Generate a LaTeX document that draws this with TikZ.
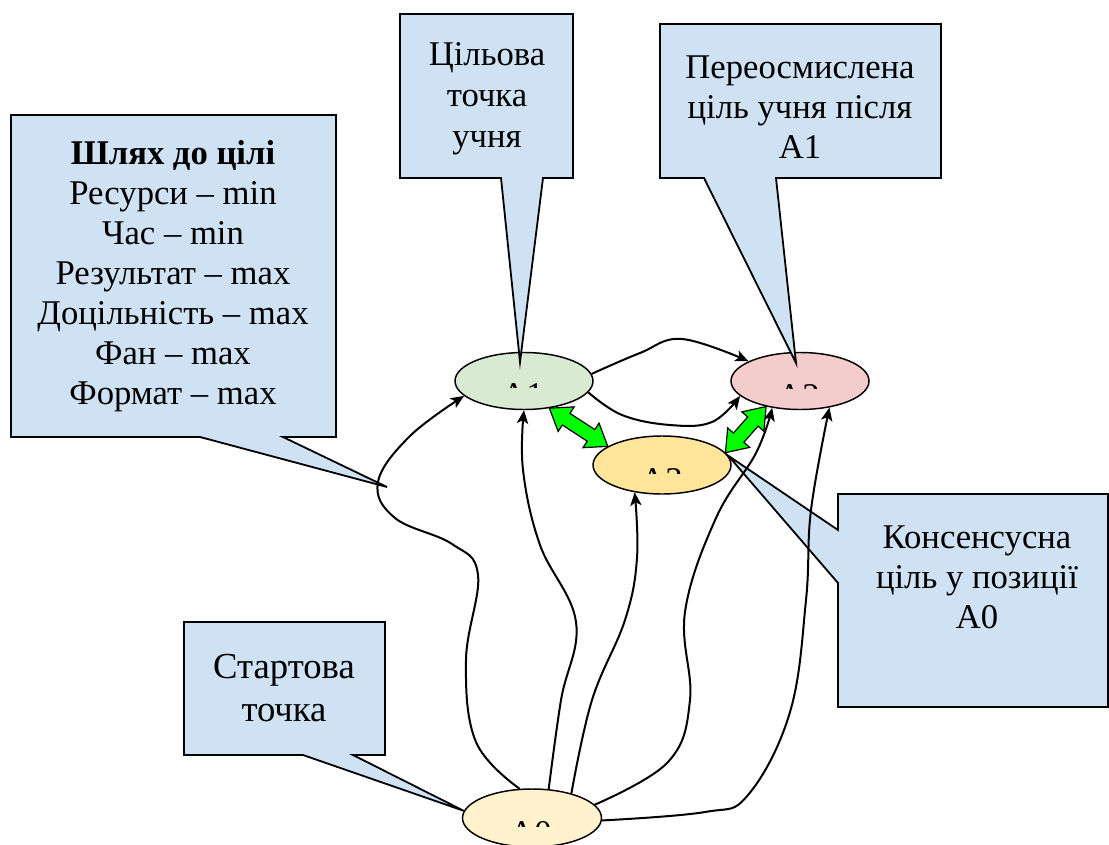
\documentclass[tikz,border=0pt]{standalone}
\usepackage{fontspec}
\IfFontExistsTF{LiberationSerif-Regular.ttf}{\setmainfont{LiberationSerif-Regular.ttf}[BoldFont=LiberationSerif-Bold.ttf]}{\setmainfont{Liberation Serif}}
\usetikzlibrary{arrows.meta,calc,shapes.geometric}
\definecolor{boxblue}{HTML}{CFE2F3}
\definecolor{gfill}{HTML}{D9EAD3}
\definecolor{rfill}{HTML}{F4CCCC}
\definecolor{yfill}{HTML}{FFE599}
\definecolor{ofill}{HTML}{FFF2CC}
\definecolor{lime}{HTML}{00FF00}
\def\fahl{15pt}
\def\fahw{11pt}
\def\fasw{5.2pt}
\newcommand\fatarr[2]{%
\draw[fatstyle] (#1) -- ($(#1)!\fahl!(#2)!\fahw!90:(#2)$) -- ($(#1)!\fahl!(#2)!\fasw!90:(#2)$)
 -- ($(#2)!\fahl!(#1)!\fasw!-90:(#1)$) -- ($(#2)!\fahl!(#1)!\fahw!-90:(#1)$) -- (#2)
 -- ($(#2)!\fahl!(#1)!\fahw!90:(#1)$) -- ($(#2)!\fahl!(#1)!\fasw!90:(#1)$)
 -- ($(#1)!\fahl!(#2)!\fasw!-90:(#2)$) -- ($(#1)!\fahl!(#2)!\fahw!-90:(#2)$) -- cycle;}
\tikzset{
  ell/.style={ellipse, draw, line width=1.1pt, inner sep=0pt, minimum width=103.5pt, minimum height=42.75pt},
  callout/.style={draw, fill=boxblue, line width=1.35pt, line join=miter},
  txt/.style={align=center, inner sep=0pt, font=\fontsize{26}{30}\selectfont},
  frag/.style={anchor=base, inner sep=0pt, font=\fontsize{26}{30}\selectfont},
  arr/.style={-{Stealth[length=10pt,width=8.5pt,inset=2.5pt]}, line width=1.5pt},
  fatstyle/.style={draw, fill=lime, line width=0.9pt, line join=miter}
}
\begin{document}
\begin{tikzpicture}[x=0.75pt,y=-0.75pt]
\useasboundingbox (0,0) rectangle (1109,845);
% ellipses
\node[ell, fill=gfill] (A1) at (524,381) {};
\node[ell, fill=rfill] (A2) at (800,381) {};
\node[ell, fill=yfill, minimum height=43.5pt] (A3) at (662,465) {};
\node[ell, fill=ofill, minimum width=104.25pt, minimum height=43.5pt] (A0) at (532,818) {};
% clipped labels
\begin{scope}\clip (490,383) rectangle (560,387.5);
\node[frag] (fA1) at (522.5,406.7) {A1};\end{scope}
\begin{scope}\clip (766,383.5) rectangle (836,388);
\node[frag] (fA2) at (798.5,407) {A2};\end{scope}
\begin{scope}\clip (629,468) rectangle (699,473);
\node[frag] (fA3) at (661.5,491.3) {A3};\end{scope}
\begin{scope}\clip (498,820.5) rectangle (568,826);
\node[frag] (fA0) at (530.5,844) {A0};\end{scope}
% callouts
\draw[callout] (11,115) -- (336,115) -- (336,437) -- (283,437) -- (387,487) -- (200,437) -- (11,437) -- cycle;
\draw[callout] (400,14) -- (573,14) -- (573,178) -- (543,178) -- (520,362) -- (501,178) -- (400,178) -- cycle;
\draw[callout] (660,24) -- (941,24) -- (941,178) -- (776,178) -- (796,363) -- (704,178) -- (660,178) -- cycle;
\draw[callout] (184,622) -- (385,622) -- (385,755) -- (353,755) -- (A0.174) -- (303,755) -- (184,755) -- cycle;
\draw[callout] (838,494) -- (1108,494) -- (1108,707) -- (838,707) -- (838,583) -- (A3.8) -- (838,530) -- cycle;
\node[txt] (tpath) at (173,276) {\textbf{Шлях до цілі}\\Ресурси – min\\Час – min\\Результат – max\\Доцільність – max\\Фан – max\\Формат – max};
\node[txt, font=\fontsize{26}{30.75}\selectfont] (tgoal) at (487,99) {Цільова\\точка\\учня};
\node[txt] (trethink) at (800,107) {Переосмислена\\ціль учня після\\A1};
\node[txt, font=\fontsize{27.5}{32.25}\selectfont] (tstart) at (284,688) {Стартова\\точка};
\node[txt] (tcons) at (977,577) {Консенсусна\\ціль у позиції\\A0};
% curved arrows
\draw[arr] plot[smooth, tension=0.65] coordinates {(A0.113) (476,742) (466,660) (478,575) (452,544) (395,518) (378,482) (410,436) (A1.194)};
\draw[arr] plot[smooth, tension=0.65] coordinates {(A0.60) (561,700) (576,622) (540,545) (523,470) (A1.270)};
\draw[arr] plot[smooth, tension=0.65] coordinates {(A0.32) (592,700) (625,620) (637,558) (A3.225)};
\draw[arr] plot[smooth, tension=0.65] coordinates {(A0.12) (668,762) (690,700) (685,612) (716,518) (756,453) (A2.224)};
\draw[arr] plot[smooth, tension=0.65] coordinates {(A0.-2) (705,812) (748,795) (790,712) (806,600) (811,510) (A2.318)};
\draw[arr] plot[smooth, tension=0.65] coordinates {(A1.6) (640,353) (682,339) (A2.159)};
\draw[arr] plot[smooth, tension=0.65] coordinates {(A1.-10) (622,415) (670,425) (712,422) (A2.194)};
% fat double arrows
\coordinate (g1) at (A1.313);
\coordinate (g2) at (A3.161);
\coordinate (g3) at (A3.11);
\coordinate (g4) at (A2.217);
\fatarr{g1}{g2}
\fatarr{g3}{g4}
\end{tikzpicture}
\end{document}
